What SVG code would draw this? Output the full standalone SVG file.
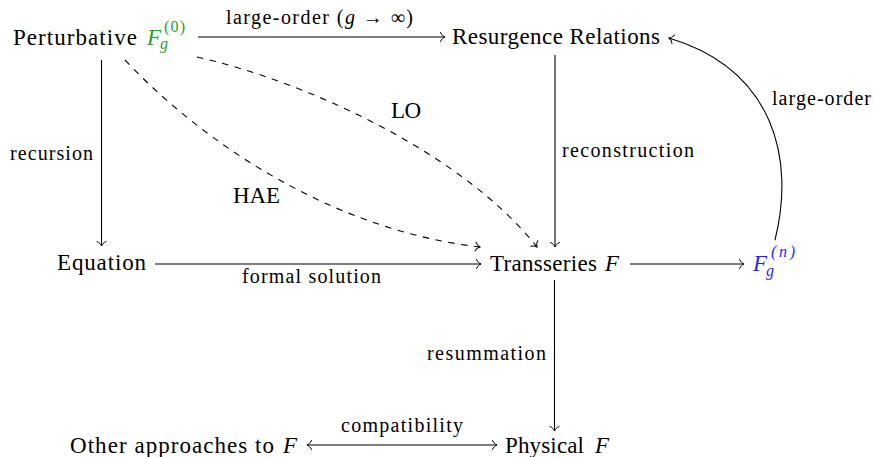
<svg xmlns="http://www.w3.org/2000/svg" width="874" height="457" viewBox="0 0 874 457">
<defs>
<marker id="to" viewBox="-6 -6 8 12" markerWidth="8" markerHeight="12" refX="0" refY="0" orient="auto-start-reverse" markerUnits="userSpaceOnUse">
<path d="M-4.5,-4.5 C-3.5,-2 -1.5,-0.6 0,0 C-1.5,0.6 -3.5,2 -4.5,4.5" fill="none" stroke="#000" stroke-width="1" stroke-dasharray="none" stroke-linecap="round"/>
</marker>
<style>
text{font-family:'Liberation Serif','DejaVu Serif',serif}
.n{font-size:23px;fill:#000}
.l{font-size:20px;fill:#000}
.it{font-style:italic}
.s{font-size:16px}
.e{fill:none;stroke:#000;stroke-width:1.1;marker-end:url(#to)}
.d{stroke-dasharray:6.5 6.5}
.g{fill:#2a9d2a}
.b{fill:#1f1fff}
</style>
</defs>
<g id="connectors">
<path class="e" d="M198,37 H445"/>
<path class="e" d="M101.5,60 V246"/>
<path class="e" d="M555,55 V247"/>
<path class="e" d="M155,264 H481"/>
<path class="e" d="M630,264 H744"/>
<path class="e" d="M554.5,280 V431"/>
<path class="e" d="M307,445 H497" marker-start="url(#to)"/>
<path class="e" d="M775,240 C795,160 775,70 669,38"/>
<path class="e d" d="M197,57 C300,80 460,150 537,247"/>
<path class="e d" d="M125,60 C200,140 330,230 480,247"/>
<text class="l" x="226" y="24" textLength="187">large-order (<tspan class="it">g</tspan> → ∞)</text>
<text class="l" x="10" y="160" textLength="83">recursion</text>
<text class="l" x="562" y="157" textLength="132">reconstruction</text>
<text class="l" x="772" y="105" textLength="99">large-order</text>
<text class="l" x="242" y="283" textLength="139">formal solution</text>
<text class="l" x="427" y="360" textLength="119">resummation</text>
<text class="l" x="341" y="432" textLength="122">compatibility</text>
<text class="n" x="391" y="118" font-size="21" textLength="30">LO</text>
<text class="n" x="233" y="203" font-size="21" textLength="47">HAE</text>
</g>
<g id="perturbative">
<text class="n" x="13" y="45" textLength="124">Perturbative</text>
<text class="n it g" x="147" y="45">F</text>
<text class="s it g" x="160" y="49">g</text>
<text class="s g" x="164" y="32" textLength="21">(0)</text>
</g>
<g id="resurgence">
<text class="n" x="452" y="44" textLength="208">Resurgence Relations</text>
</g>
<g id="equation">
<text class="n" x="57" y="270" textLength="89">Equation</text>
</g>
<g id="transseries">
<text class="n" x="490" y="271" textLength="107">Transseries</text>
<text class="n it" x="605" y="271">F</text>
</g>
<g id="fgn">
<text class="n it b" x="753" y="271">F</text>
<text class="s it b" x="766" y="276">g</text>
<text class="s it b" x="771" y="257" textLength="24">(n)</text>
</g>
<g id="other">
<text class="n" x="70" y="453" textLength="204">Other approaches to</text>
<text class="n it" x="283" y="453">F</text>
</g>
<g id="physical">
<text class="n" x="505" y="453" textLength="79">Physical</text>
<text class="n it" x="595" y="453">F</text>
</g>
</svg>
